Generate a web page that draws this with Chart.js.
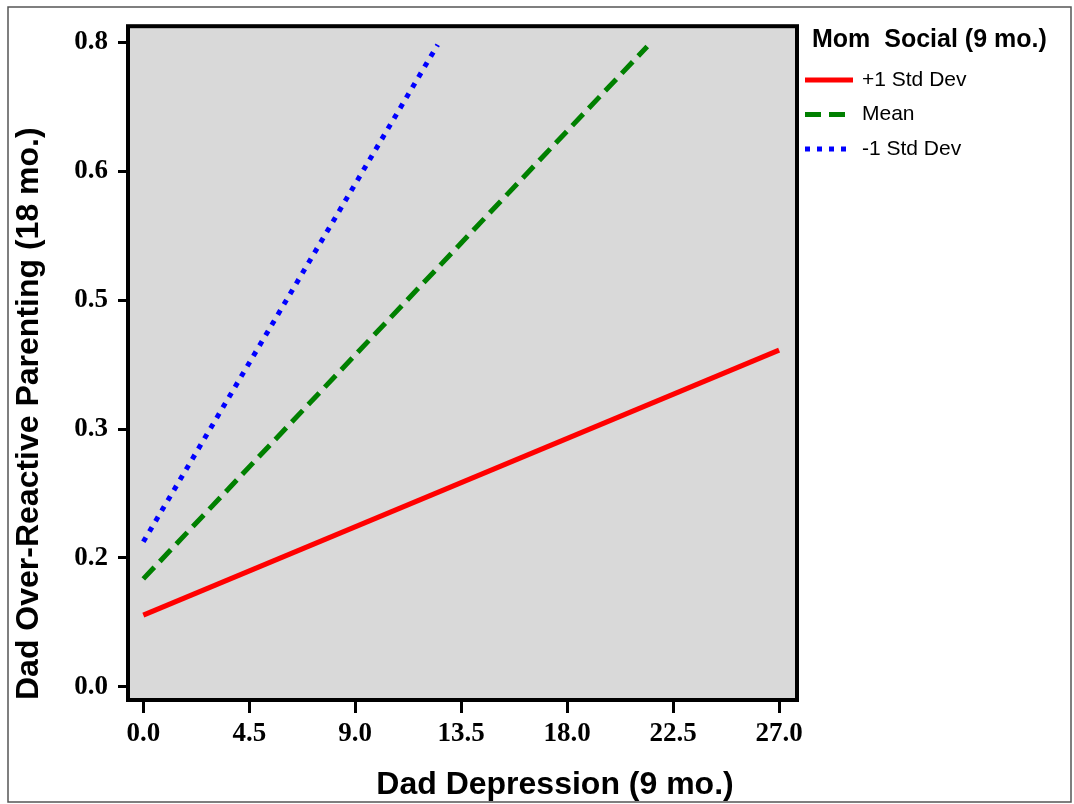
<!DOCTYPE html>
<html>
<head>
<meta charset="utf-8">
<title>Dad Over-Reactive Parenting</title>
<script src="https://cdn.jsdelivr.net/npm/chart.js@4.4.1/dist/chart.umd.min.js"></script>
<style>
  body { margin: 0; background: #fff; }
  #wrap { position: relative; width: 1074px; height: 804px; }
</style>
</head>
<body>
<div id="wrap"><canvas id="chart"></canvas></div>
<script>
// simple slopes: each line is given by its two end points
const plusSdX = [0, 27]
const plusSdY = [0.089, 0.418]
const meanX = [0, 21.4]
const meanY = [0.134, 0.795]
const minusSdX = [0, 12.5]
const minusSdY = [0.18, 0.797]

const seriesNames = ["+1 Std Dev", "Mean", "-1 Std Dev"]
const legendTitle = "Mom  Social (9 mo.)"

const xTickValues = [0, 4.5, 9, 13.5, 18, 22.5, 27]
const xTickLabels = ["0.0", "4.5", "9.0", "13.5", "18.0", "22.5", "27.0"]
const yTickValues = [0, 0.16, 0.32, 0.48, 0.64, 0.8]
const yTickLabels = ["0.0", "0.2", "0.3", "0.5", "0.6", "0.8"]

const sans = "'Liberation Sans', Arial, sans-serif"
const serif = "'Liberation Serif', 'Times New Roman', serif"

const toPoints = (xs, ys) => xs.map((x, i) => ({ x: x, y: ys[i] }))

// grey plot panel, black frame, outer picture border and the x axis title
const panelPlugin = {
  id: "panel",
  beforeDatasetsDraw(chart) {
    const { ctx, chartArea: a } = chart
    ctx.save()
    ctx.fillStyle = "#d9d9d9"
    ctx.fillRect(a.left, a.top, a.right - a.left, a.bottom - a.top)
    ctx.restore()
  },
  afterDraw(chart) {
    const { ctx, chartArea: a } = chart
    ctx.save()
    ctx.strokeStyle = "#000"
    ctx.lineWidth = 4
    ctx.strokeRect(a.left, a.top, a.right - a.left, a.bottom - a.top)

    ctx.strokeStyle = "#555"
    ctx.lineWidth = 1.5
    ctx.strokeRect(8, 7, chart.width - 11, chart.height - 9)

    ctx.font = "bold 32px " + sans
    ctx.fillStyle = "#000"
    ctx.textAlign = "center"
    ctx.textBaseline = "middle"
    ctx.fillText("Dad Depression (9 mo.)", chart.width / 2 + 18, 785)
    ctx.restore()
  },
}

// legend to the right of the panel, samples taken from the datasets
const legendPlugin = {
  id: "sideLegend",
  afterDraw(chart) {
    const ctx = chart.ctx
    const x0 = chart.chartArea.right
    ctx.save()
    ctx.fillStyle = "#000"
    ctx.textAlign = "left"
    ctx.textBaseline = "middle"
    ctx.font = "bold 25px " + sans
    ctx.fillText(legendTitle, x0 + 15, 40)
    ctx.font = "21px " + sans
    chart.data.datasets.forEach((ds, i) => {
      const y = 80 + i * 34.5
      ctx.beginPath()
      ctx.setLineDash(ds.borderDash || [])
      ctx.lineWidth = ds.borderWidth
      ctx.strokeStyle = ds.borderColor
      ctx.moveTo(x0 + 8, y)
      ctx.lineTo(x0 + 56, y)
      ctx.stroke()
      ctx.fillText(ds.label, x0 + 65, y)
    })
    ctx.restore()
  },
}

new Chart(document.getElementById("chart"), {
  type: "line",
  data: {
    datasets: [
      {
        label: seriesNames[0],
        data: toPoints(plusSdX, plusSdY),
        borderColor: "#ff0000",
        backgroundColor: "#ff0000",
        borderWidth: 5,
      },
      {
        label: seriesNames[1],
        data: toPoints(meanX, meanY),
        borderColor: "#008000",
        backgroundColor: "#008000",
        borderWidth: 5,
        borderDash: [16, 8],
      },
      {
        label: seriesNames[2],
        data: toPoints(minusSdX, minusSdY),
        borderColor: "#0000ff",
        backgroundColor: "#0000ff",
        borderWidth: 5,
        borderDash: [5, 7],
      },
    ],
  },
  options: {
    responsive: true,
    maintainAspectRatio: false,
    animation: false,
    elements: { point: { radius: 0, hoverRadius: 0 }, line: { tension: 0 } },
    layout: { padding: { top: 22, right: 277, bottom: 0, left: 0 } },
    plugins: {
      tooltip: { enabled: false },
      legend: { display: false },
    },
    scales: {
      x: {
        type: "linear",
        min: -0.65,
        max: 27.76,
        afterBuildTicks: (scale) => {
          scale.ticks = xTickValues.map((v) => ({ value: v }))
        },
        afterFit: (scale) => {
          scale.height = 104
        },
        border: { display: false },
        grid: { drawOnChartArea: false, tickLength: 13, tickWidth: 3, tickColor: "#000" },
        ticks: {
          color: "#000",
          padding: 5,
          maxRotation: 0,
          autoSkip: false,
          font: { family: serif, size: 27, weight: "bold" },
          callback: (value, index) => xTickLabels[index],
        },
      },
      y: {
        type: "linear",
        min: -0.0164,
        max: 0.8201,
        afterBuildTicks: (scale) => {
          scale.ticks = yTickValues.map((v) => ({ value: v }))
        },
        afterFit: (scale) => {
          scale.width = 128
        },
        border: { display: false },
        grid: { drawOnChartArea: false, tickLength: 10, tickWidth: 3, tickColor: "#000" },
        ticks: {
          color: "#000",
          padding: 10,
          autoSkip: false,
          font: { family: serif, size: 27, weight: "bold" },
          callback: (value, index) => yTickLabels[index],
        },
        title: {
          display: true,
          text: "Dad Over-Reactive Parenting (18 mo.)",
          align: "start",
          color: "#000",
          padding: { top: 10 },
          font: { family: sans, size: 32, weight: "bold" },
        },
      },
    },
  },
  plugins: [panelPlugin, legendPlugin],
})
</script>
</body>
</html>
